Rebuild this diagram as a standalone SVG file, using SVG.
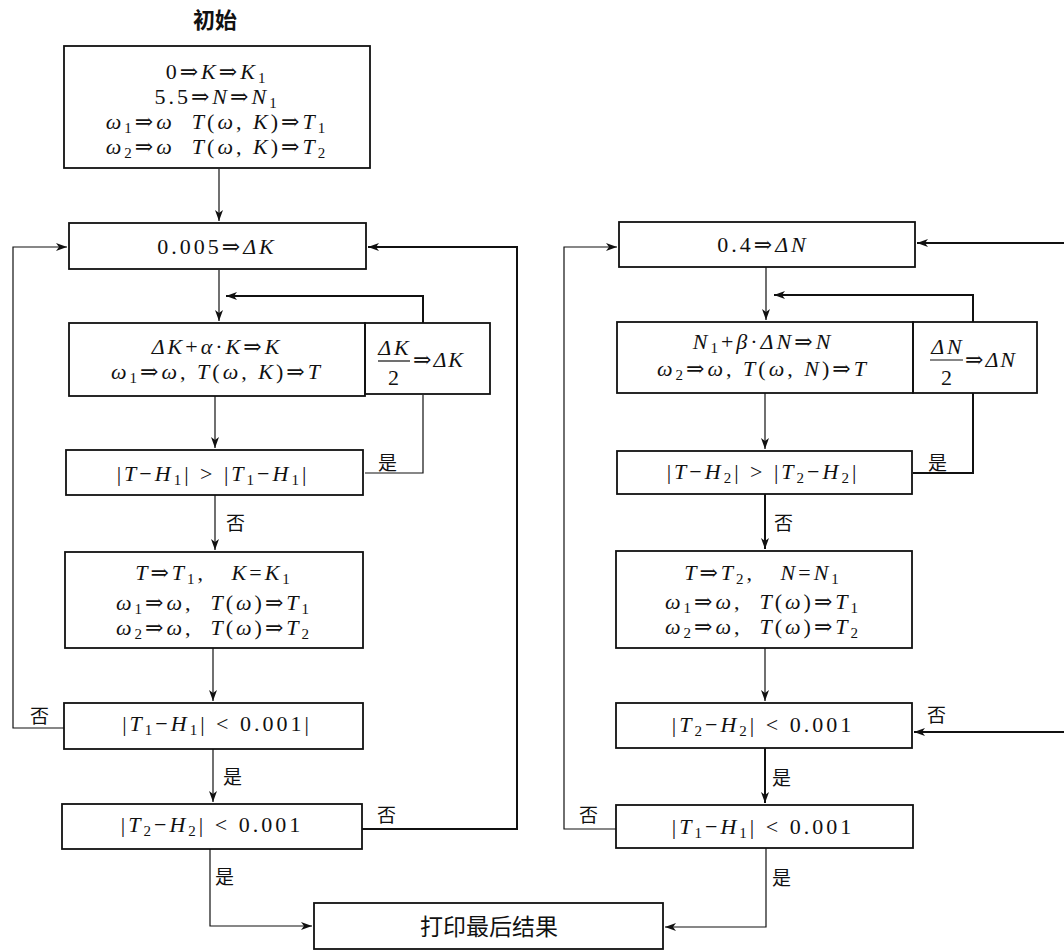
<svg xmlns="http://www.w3.org/2000/svg" width="1064" height="951" viewBox="0 0 1064 951">
<style>
.box{fill:none;stroke:#111;stroke-width:1.8}
.m{font-family:"Liberation Serif","DejaVu Serif",serif;font-size:22px;letter-spacing:3px;fill:#111;text-anchor:middle}
.ml{font-family:"Liberation Serif","DejaVu Serif",serif;font-size:22px;letter-spacing:2px;fill:#111}
.i{font-style:italic}
.s{font-size:15px;font-style:normal}
.cn{font-family:"Noto Sans CJK SC",sans-serif;font-size:19px;fill:#111}
.c1{fill:none;stroke:#111;stroke-width:1.2}
.c2{fill:none;stroke:#111;stroke-width:2}
</style>
<defs>
<marker id="ah" markerWidth="12" markerHeight="10" refX="11" refY="5" orient="auto" markerUnits="userSpaceOnUse">
<path d="M0,1 L11,5 L0,9 L3,5 Z" fill="#111"/>
</marker>
</defs>
<rect width="1064" height="951" fill="#fff"/>

<text x="215" y="28" font-family="Noto Sans CJK SC, sans-serif" font-size="22" font-weight="bold" text-anchor="middle" fill="#111">初始</text>

<g id="n_init">
<rect class="box" x="64" y="46" width="306" height="122"/>
<text class="m" x="217" y="79">0⇒<tspan class="i">K</tspan>⇒<tspan class="i">K</tspan><tspan class="s" dy="4">1</tspan></text>
<text class="m" x="217" y="104">5.5⇒<tspan class="i">N</tspan>⇒<tspan class="i">N</tspan><tspan class="s" dy="4">1</tspan></text>
<text class="m" x="217" y="129"><tspan class="i">ω</tspan><tspan class="s" dy="4">1</tspan><tspan dy="-4">⇒</tspan><tspan class="i">ω</tspan>&#160;&#160;<tspan class="i">T</tspan>(<tspan class="i">ω</tspan>, <tspan class="i">K</tspan>)⇒<tspan class="i">T</tspan><tspan class="s" dy="4">1</tspan></text>
<text class="m" x="217" y="154"><tspan class="i">ω</tspan><tspan class="s" dy="4">2</tspan><tspan dy="-4">⇒</tspan><tspan class="i">ω</tspan>&#160;&#160;<tspan class="i">T</tspan>(<tspan class="i">ω</tspan>, <tspan class="i">K</tspan>)⇒<tspan class="i">T</tspan><tspan class="s" dy="4">2</tspan></text>
</g>

<g id="n_dk">
<rect class="box" x="69" y="223" width="297" height="46"/>
<text class="m" x="217" y="254">0.005⇒<tspan class="i">ΔK</tspan></text>
</g>

<g id="n_k">
<rect class="box" x="69" y="323" width="296" height="73"/>
<text class="m" x="217" y="354"><tspan class="i">ΔK</tspan>+<tspan class="i">α</tspan>·<tspan class="i">K</tspan>⇒<tspan class="i">K</tspan></text>
<text class="m" x="217" y="379"><tspan class="i">ω</tspan><tspan class="s" dy="4">1</tspan><tspan dy="-4">⇒</tspan><tspan class="i">ω</tspan>, <tspan class="i">T</tspan>(<tspan class="i">ω</tspan>, <tspan class="i">K</tspan>)⇒<tspan class="i">T</tspan></text>
</g>

<g id="n_halfk">
<rect class="box" x="365" y="323" width="125" height="71"/>
<text class="m i" x="395" y="355">ΔK</text>
<line x1="378" y1="361" x2="410" y2="361" stroke="#111" stroke-width="1.2"/>
<text class="m" x="395" y="385">2</text>
<text class="ml" x="413" y="367">⇒<tspan class="i">ΔK</tspan></text>
</g>

<g id="n_cmp1">
<rect class="box" x="66" y="450" width="297" height="45"/>
<text class="m" x="213" y="481">|<tspan class="i">T</tspan>−<tspan class="i">H</tspan><tspan class="s" dy="4">1</tspan><tspan dy="-4">| &gt; |</tspan><tspan class="i">T</tspan><tspan class="s" dy="4">1</tspan><tspan dy="-4">−</tspan><tspan class="i">H</tspan><tspan class="s" dy="4">1</tspan><tspan dy="-4">|</tspan></text>
</g>

<g id="n_upd1">
<rect class="box" x="65" y="552" width="298" height="96"/>
<text class="m" x="214" y="580"><tspan class="i">T</tspan>⇒<tspan class="i">T</tspan><tspan class="s" dy="4">1</tspan><tspan dy="-4">,&#160;&#160; </tspan><tspan class="i">K</tspan>=<tspan class="i">K</tspan><tspan class="s" dy="4">1</tspan></text>
<text class="m" x="214" y="610"><tspan class="i">ω</tspan><tspan class="s" dy="4">1</tspan><tspan dy="-4">⇒</tspan><tspan class="i">ω</tspan>,&#160;&#160;<tspan class="i">T</tspan>(<tspan class="i">ω</tspan>)⇒<tspan class="i">T</tspan><tspan class="s" dy="4">1</tspan></text>
<text class="m" x="214" y="635"><tspan class="i">ω</tspan><tspan class="s" dy="4">2</tspan><tspan dy="-4">⇒</tspan><tspan class="i">ω</tspan>,&#160;&#160;<tspan class="i">T</tspan>(<tspan class="i">ω</tspan>)⇒<tspan class="i">T</tspan><tspan class="s" dy="4">2</tspan></text>
</g>

<g id="n_test1">
<rect class="box" x="64" y="703" width="299" height="46"/>
<text class="m" x="217" y="731">|<tspan class="i">T</tspan><tspan class="s" dy="4">1</tspan><tspan dy="-4">−</tspan><tspan class="i">H</tspan><tspan class="s" dy="4">1</tspan><tspan dy="-4">| &lt; 0.001|</tspan></text>
</g>

<g id="n_test2">
<rect class="box" x="62" y="804" width="300" height="45"/>
<text class="m" x="212" y="832">|<tspan class="i">T</tspan><tspan class="s" dy="4">2</tspan><tspan dy="-4">−</tspan><tspan class="i">H</tspan><tspan class="s" dy="4">2</tspan><tspan dy="-4">| &lt; 0.001</tspan></text>
</g>

<g id="n_dn">
<rect class="box" x="619" y="222" width="296" height="45"/>
<text class="m" x="763" y="252">0.4⇒<tspan class="i">ΔN</tspan></text>
</g>

<g id="n_n">
<rect class="box" x="617" y="322" width="296" height="71"/>
<text class="m" x="763" y="349"><tspan class="i">N</tspan><tspan class="s" dy="4">1</tspan><tspan dy="-4">+</tspan><tspan class="i">β</tspan>·<tspan class="i">ΔN</tspan>⇒<tspan class="i">N</tspan></text>
<text class="m" x="763" y="376"><tspan class="i">ω</tspan><tspan class="s" dy="4">2</tspan><tspan dy="-4">⇒</tspan><tspan class="i">ω</tspan>, <tspan class="i">T</tspan>(<tspan class="i">ω</tspan>, <tspan class="i">N</tspan>)⇒<tspan class="i">T</tspan></text>
</g>

<g id="n_halfn">
<rect class="box" x="913" y="322" width="124" height="71"/>
<text class="m i" x="948" y="354">ΔN</text>
<line x1="930" y1="360" x2="963" y2="360" stroke="#111" stroke-width="1.2"/>
<text class="m" x="948" y="385">2</text>
<text class="ml" x="965" y="367">⇒<tspan class="i">ΔN</tspan></text>
</g>

<g id="n_cmp2">
<rect class="box" x="617" y="451" width="295" height="43"/>
<text class="m" x="763" y="479">|<tspan class="i">T</tspan>−<tspan class="i">H</tspan><tspan class="s" dy="4">2</tspan><tspan dy="-4">| &gt; |</tspan><tspan class="i">T</tspan><tspan class="s" dy="4">2</tspan><tspan dy="-4">−</tspan><tspan class="i">H</tspan><tspan class="s" dy="4">2</tspan><tspan dy="-4">|</tspan></text>
</g>

<g id="n_upd2">
<rect class="box" x="616" y="551" width="296" height="97"/>
<text class="m" x="763" y="580"><tspan class="i">T</tspan>⇒<tspan class="i">T</tspan><tspan class="s" dy="4">2</tspan><tspan dy="-4">,&#160;&#160; </tspan><tspan class="i">N</tspan>=<tspan class="i">N</tspan><tspan class="s" dy="4">1</tspan></text>
<text class="m" x="763" y="609"><tspan class="i">ω</tspan><tspan class="s" dy="4">1</tspan><tspan dy="-4">⇒</tspan><tspan class="i">ω</tspan>,&#160;&#160;<tspan class="i">T</tspan>(<tspan class="i">ω</tspan>)⇒<tspan class="i">T</tspan><tspan class="s" dy="4">1</tspan></text>
<text class="m" x="763" y="634"><tspan class="i">ω</tspan><tspan class="s" dy="4">2</tspan><tspan dy="-4">⇒</tspan><tspan class="i">ω</tspan>,&#160;&#160;<tspan class="i">T</tspan>(<tspan class="i">ω</tspan>)⇒<tspan class="i">T</tspan><tspan class="s" dy="4">2</tspan></text>
</g>

<g id="n_test3">
<rect class="box" x="616" y="703" width="296" height="45"/>
<text class="m" x="763" y="732">|<tspan class="i">T</tspan><tspan class="s" dy="4">2</tspan><tspan dy="-4">−</tspan><tspan class="i">H</tspan><tspan class="s" dy="4">2</tspan><tspan dy="-4">| &lt; 0.001</tspan></text>
</g>

<g id="n_test4">
<rect class="box" x="616" y="805" width="297" height="43"/>
<text class="m" x="763" y="834">|<tspan class="i">T</tspan><tspan class="s" dy="4">1</tspan><tspan dy="-4">−</tspan><tspan class="i">H</tspan><tspan class="s" dy="4">1</tspan><tspan dy="-4">| &lt; 0.001</tspan></text>
</g>

<g id="n_print">
<rect class="box" x="314" y="903" width="349" height="46"/>
<text x="489" y="935" font-family="Noto Sans CJK SC, sans-serif" font-size="23" text-anchor="middle" fill="#111">打印最后结果</text>
</g>

<g id="connectors">
<path class="c1" d="M219,169 V221" marker-end="url(#ah)"/>
<path class="c1" d="M219,270 V321" marker-end="url(#ah)"/>
<path class="c2" d="M423,323 V296 H226" marker-end="url(#ah)"/>
<path class="c1" d="M215,396 V448" marker-end="url(#ah)"/>
<path class="c1" d="M365,473 H423 V395"/>
<path class="c1" d="M215,495 V550" marker-end="url(#ah)"/>
<path class="c1" d="M213,648 V701" marker-end="url(#ah)"/>
<path class="c1" d="M64,728 H13 V247 H67" marker-end="url(#ah)"/>
<path class="c1" d="M213,749 V802" marker-end="url(#ah)"/>
<path class="c2" d="M362,829 H517 V247 H368" marker-end="url(#ah)"/>
<path class="c1" d="M210,849 V926 H312" marker-end="url(#ah)"/>

<path class="c1" d="M766,267 V320" marker-end="url(#ah)"/>
<path class="c2" d="M973,322 V295 H774" marker-end="url(#ah)"/>
<path class="c1" d="M765,393 V449" marker-end="url(#ah)"/>
<path class="c2" d="M913,473 H973 V393"/>
<path class="c2" d="M765,494 V549" marker-end="url(#ah)"/>
<path class="c1" d="M765,648 V701" marker-end="url(#ah)"/>
<path class="c2" d="M1064,243 H917" marker-end="url(#ah)"/>
<path class="c2" d="M1064,732 H914" marker-end="url(#ah)"/>
<path class="c2" d="M765,748 V803" marker-end="url(#ah)"/>
<path class="c1" d="M616,829 H564 V247 H617" marker-end="url(#ah)"/>
<path class="c1" d="M766,848 V927 H665" marker-end="url(#ah)"/>

<text class="cn" x="226" y="530">否</text>
<text class="cn" x="378" y="470">是</text>
<text class="cn" x="30" y="723">否</text>
<text class="cn" x="223" y="784">是</text>
<text class="cn" x="377" y="822">否</text>
<text class="cn" x="215" y="884">是</text>
<text class="cn" x="928" y="470">是</text>
<text class="cn" x="774" y="530">否</text>
<text class="cn" x="927" y="722">否</text>
<text class="cn" x="772" y="785">是</text>
<text class="cn" x="579" y="822">否</text>
<text class="cn" x="772" y="885">是</text>
</g>
</svg>
